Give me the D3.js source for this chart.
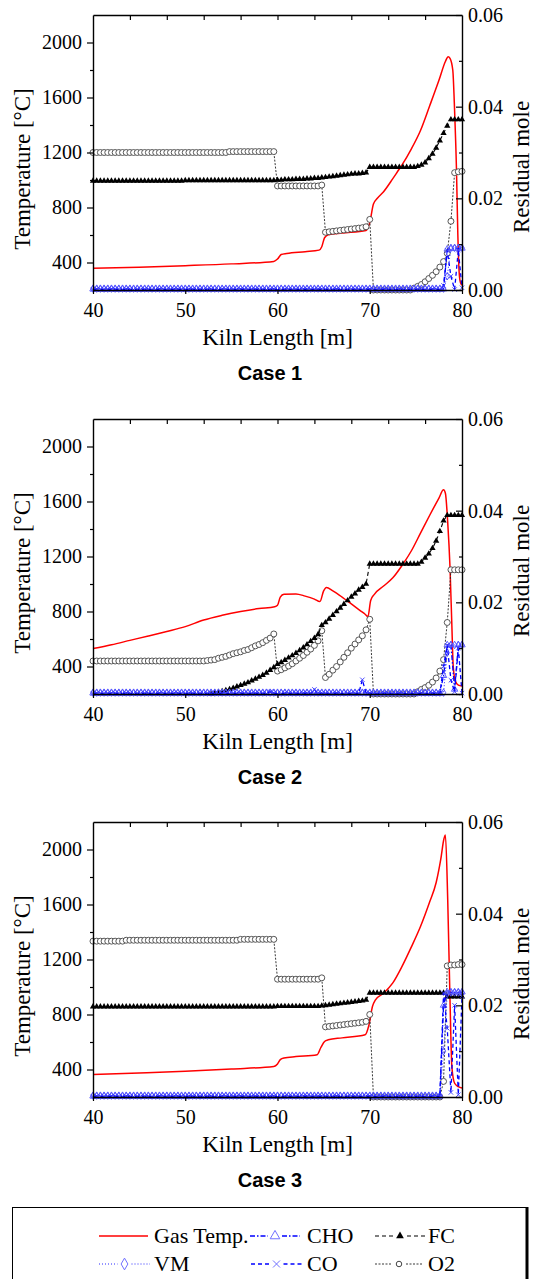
<!DOCTYPE html>
<html>
<head>
<meta charset="utf-8">
<script src="https://cdn.jsdelivr.net/npm/d3@7"></script>
<style>
  body { margin: 0; background: #fff; }
  svg { display: block; }
  text { font-family: "Liberation Serif", "Times New Roman", serif; fill: #000; }
</style>
</head>
<body>
<div id="chart-container"></div>
<script>
// sample positions along the kiln (m), one marker per sample
const kilnLength = d3.range(101).map(i => +(40 + 0.4 * i).toFixed(1));

// shorthand for long flat runs: a number is one sample, [v, n] is v for n samples
function unpack(list) {
    let out = [];
    list.forEach(item => {
        if (Array.isArray(item)) {
            for (let i = 0; i < item[1]; i++) out.push(item[0]);
        } else {
            out.push(item);
        }
    });
    return out;
}

// ---- Case 1 ----
const gasCase1 = [[40,358],[45,366],[50,377],[55,390],[59.6,408],[60.0,425],[60.4,458],[61,466],[63,479],[64.5,490],
    [64.8,515],[65.1,580],[65.5,602],[67,614],[69.6,632],[70.0,690],[70.4,825],[70.8,865],[71.5,915],[72.5,1010],
    [73.0,1060],[73.5,1110],[74.5,1225],[75.5,1360],[76.5,1540],[77.5,1725],[78.2,1862],[78.5,1897],[78.7,1885],
    [79.0,1800],[79.2,1500],[79.4,1080],[79.55,600],[79.7,320],[79.85,250],[80,235]];
const fcCase1 = unpack([[0.0238, 25], [0.0239, 25],
    0.0240, 0.0240, 0.0241, 0.0241, 0.0241, 0.0242, 0.0242, 0.0242, 0.0243, 0.0243, 0.0244, 0.0244,
    0.0245, 0.0246, 0.0247, 0.0248, 0.0249, 0.0250, 0.0251, 0.0252, 0.0253, 0.0254, 0.0254, 0.0255, 0.0256,
    [0.0268, 13],
    0.0270, 0.0273, 0.0278, 0.0287, 0.0297, 0.0310, 0.0326, 0.0342, 0.0358, [0.0372, 4]]);
const o2Case1 = unpack([[0.0300, 37], [0.0302, 13], [0.0227, 12], 0.0229,
    0.0126, 0.0127, 0.0128, 0.0129, 0.0130, 0.0131, 0.0132, 0.0133, 0.0134, 0.0135, 0.0136, 0.0138,
    0.0154, [0, 11],
    0.0004, 0.0008, 0.0012, 0.0018, 0.0025, 0.0032, 0.0040, 0.0050, 0.0062, 0.0080, 0.0150, 0.0256, 0.0258, 0.0259]);
const vmCase1 = unpack([[0.0003, 96], 0.0030, 0.0092, 0.0092, 0.0092, 0.0092]);
const choCase1 = unpack([[0.0002, 96], 0.0089, 0.0090, 0.0091, 0.0091, 0.0091]);
const coCase1 = unpack([[0.0001, 95], 0.0010, 0.0086, 0.0030, 0.0001, 0.0087, 0.0005]);

// ---- Case 2 ----
const gasCase2 = [[40,530],[42,558],[44,590],[46,622],[48,655],[50,690],[52,738],[54,772],[56,800],[58,822],
    [59.7,835],[60.0,845],[60.3,905],[60.7,925],[62,928],[63,912],[64,890],[64.6,872],[65.0,950],[65.3,975],
    [66,950],[67,905],[68,855],[69,805],[69.5,780],[69.8,762],[70.1,880],[70.5,925],[71.5,985],[72.5,1045],
    [73.5,1135],[74.5,1240],[75.5,1370],[76.5,1500],[77.5,1625],[78.0,1685],[78.2,1660],[78.45,1450],
    [78.7,1120],[78.9,700],[79.05,400],[79.3,290],[79.6,265],[80,258]];
// no FC marks show before ~53 m
const fcCase2 = unpack([[null, 32], 0,
    0.0002, 0.0004, 0.0006, 0.0008, 0.0010, 0.0013, 0.0016, 0.0019, 0.0022, 0.0025, 0.0029, 0.0033, 0.0037,
    0.0041, 0.0046, 0.0052, 0.0058,
    0.0065, 0.0069, 0.0074, 0.0079, 0.0084, 0.0089, 0.0095, 0.0101, 0.0108, 0.0115, 0.0122, 0.0130,
    0.0150, 0.0156, 0.0164, 0.0172, 0.0180, 0.0188, 0.0196, 0.0204, 0.0212, 0.0219, 0.0227, 0.0233, 0.0240,
    [0.0284, 14],
    0.0288, 0.0297, 0.0306, 0.0318, 0.0334, 0.0355, 0.0378, 0.0390, [0.0390, 4]]);
const o2Case2 = unpack([[0.0072, 31],
    0.0073, 0.0074, 0.0075, 0.0078, 0.0080, 0.0082, 0.0085, 0.0088, 0.0090, 0.0092, 0.0095, 0.0097, 0.0101,
    0.0105, 0.0108, 0.0112, 0.0117, 0.0122, 0.0131,
    0.0050, 0.0053, 0.0057, 0.0061, 0.0066, 0.0072, 0.0078, 0.0084, 0.0091, 0.0098, 0.0106, 0.0116,
    0.0138,
    0.0036, 0.0043, 0.0052, 0.0060, 0.0070, 0.0080, 0.0090, 0.0100, 0.0109, 0.0118, 0.0127, 0.0140,
    0.0163, [0, 12],
    0.0005, 0.0010, 0.0014, 0.0019, 0.0026, 0.0035, 0.0050, 0.0075, 0.0156, 0.0271, 0.0271, 0.0271, 0.0271]);
const vmCase2 = unpack([[0.0003, 96], 0.0090, 0.0107, 0.0107, 0.0107, 0.0107]);
const choCase2 = unpack([[0.0002, 95], 0.0040, 0.0107, 0.0107, 0.0010, 0.0107, 0.0107]);
const coCase2 = unpack([[0.0001, 48], 0.0005, [0.0001, 11], 0.0010, [0.0001, 12], 0.0031, [0.0001, 21],
    0.0060, 0.0106, 0.0030, 0.0005, 0.0100, 0.0002]);

// ---- Case 3 ----
const gasCase3 = [[40,363],[45,375],[50,388],[55,404],[59.6,422],[60.0,440],[60.3,472],[60.7,484],[62,494],
    [64.3,508],[64.7,560],[65.1,604],[65.5,616],[67,630],[69.5,652],[69.9,720],[70.3,860],[70.6,905],[71.5,955],
    [72.5,1030],[73.5,1150],[74.5,1290],[75.5,1440],[76.5,1620],[77.2,1760],[77.7,1930],[78.05,2080],[78.2,2105],
    [78.45,1640],[78.7,905],[78.9,420],[79.2,300],[79.6,275],[80,265]];
const fcCase3 = unpack([[0.0197, 50], [0.0198, 12],
    0.0199, 0.0200, 0.0201, 0.0202, 0.0203, 0.0204, 0.0205, 0.0206, 0.0207, 0.0208, 0.0209, 0.0210, 0.0212,
    [0.0227, 21], [0.0219, 5]]);
const o2Case3 = unpack([[0.0340, 9], [0.0342, 31], [0.0344, 10], [0.0257, 12], 0.0260,
    0.0153, 0.0154, 0.0155, 0.0156, 0.0157, 0.0158, 0.0159, 0.0160, 0.0161, 0.0162, 0.0163, 0.0165,
    0.0180, [0, 19], 0.0034, 0.0286, 0.0288, 0.0288, 0.0289, 0.0289]);
const vmCase3 = unpack([[0.0003, 95], 0.0100, 0.0225, 0.0228, 0.0228, 0.0228, 0.0228]);
const choCase3 = unpack([[0.0002, 95], 0.0200, 0.0229, 0.0229, 0.0229, 0.0229, 0.0229]);
const coCase3 = unpack([[0.0001, 95], 0.0227, 0.0150, 0.0010, 0.0200, 0.0005, 0.0220]);

// ---- axes ----
const caseTitles = ["Case 1", "Case 2", "Case 3"];
const lengthTicks = [40, 50, 60, 70, 80];
const topTicks = [44, 48, 52, 56, 60, 64, 68, 72, 76];
const tempTicks = [400, 800, 1200, 1600, 2000];
const tempMinorTicks = [600, 1000, 1400, 1800];
const moleTicks = [0, 0.02, 0.04, 0.06];
const moleMinorTicks = [0.01, 0.03, 0.05];

const cases = [
    {gas: gasCase1, fc: fcCase1, o2: o2Case1, vm: vmCase1, cho: choCase1, co: coCase1},
    {gas: gasCase2, fc: fcCase2, o2: o2Case2, vm: vmCase2, cho: choCase2, co: coCase2},
    {gas: gasCase3, fc: fcCase3, o2: o2Case3, vm: vmCase3, cho: choCase3, co: coCase3}
];

const plotLeft = 93, plotRight = 462, plotHeight = 275;
const panelTops = [15, 419, 822];
const serif = '"Liberation Serif", "Times New Roman", serif';

const crossPath = function(r) {
    return "M" + (-r) + "," + (-r) + "L" + r + "," + r + "M" + (-r) + "," + r + "L" + r + "," + (-r);
};

const styles = {
    o2:  {line: "#222", width: 0.9, dash: "2,1.5", marker: d3.symbol(d3.symbolCircle).size(28)(),
          mStroke: "#444", mFill: "#fff", mWidth: 0.9},
    fc:  {line: "#000", width: 1.1, dash: "4,3", marker: d3.symbol(d3.symbolTriangle).size(17)(),
          mStroke: "none", mFill: "#000", mWidth: 0},
    vm:  {line: "#2a2aff", width: 1, dash: "1,2", marker: d3.symbol(d3.symbolDiamond).size(16)(),
          mStroke: "#4848ff", mFill: "none", mWidth: 0.9},
    cho: {line: "#0000ff", width: 1.3, dash: "5,2,1.5,2", marker: d3.symbol(d3.symbolTriangle).size(18)(),
          mStroke: "#5555ff", mFill: "none", mWidth: 0.9},
    co:  {line: "#0000ff", width: 1.3, dash: "4,3", marker: crossPath(2.2),
          mStroke: "#3535ff", mFill: "none", mWidth: 0.9}
};

let svg = d3.select("#chart-container")
    .append("svg")
    .attr("width", 533)
    .attr("height", 1279);
svg.append("rect").attr("width", 533).attr("height", 1279).attr("fill", "#fff");

let x = d3.scaleLinear().domain([40, 80]).range([plotLeft, plotRight]);

function drawSeries(g, values, yScale, st) {
    let pts = kilnLength.map((d, i) => [x(d), values[i] === null ? null : yScale(values[i])]);
    g.append("path")
        .attr("d", d3.line().defined(p => p[1] !== null)(pts))
        .attr("fill", "none")
        .attr("stroke", st.line)
        .attr("stroke-width", st.width)
        .attr("stroke-dasharray", st.dash);
    g.append("g").selectAll("path")
        .data(pts.filter(p => p[1] !== null))
        .enter()
        .append("path")
        .attr("transform", p => "translate(" + p[0] + "," + p[1] + ")")
        .attr("d", st.marker)
        .attr("fill", st.mFill)
        .attr("stroke", st.mStroke)
        .attr("stroke-width", st.mWidth);
}

function styleAxis(g, size) {
    g.attr("font-family", serif).attr("font-size", size);
    g.selectAll("line").attr("stroke", "#000").attr("stroke-width", 1.2);
    g.select(".domain").attr("stroke", "#000").attr("stroke-width", 1.4);
}

cases.forEach((c, k) => {
    let top = panelTops[k], bottom = top + plotHeight;
    let yT = d3.scaleLinear().domain([200, 2200]).range([bottom, top]);
    let yR = d3.scaleLinear().domain([0, 0.06]).range([bottom, top]);
    let g = svg.append("g");

    // gas temperature on the left axis
    g.append("path")
        .attr("d", d3.line().x(d => x(d[0])).y(d => yT(d[1])).curve(d3.curveMonotoneX)(c.gas))
        .attr("fill", "none")
        .attr("stroke", "#ff0000")
        .attr("stroke-width", 1.5);

    // residual moles on the right axis
    drawSeries(g, c.o2, yR, styles.o2);
    drawSeries(g, c.fc, yR, styles.fc);
    drawSeries(g, c.vm, yR, styles.vm);
    drawSeries(g, c.cho, yR, styles.cho);
    drawSeries(g, c.co, yR, styles.co);

    // axes
    g.append("g")
        .attr("transform", "translate(0," + bottom + ")")
        .call(d3.axisBottom(x).tickValues(lengthTicks).tickSize(4).tickSizeOuter(0).tickPadding(9))
        .call(a => styleAxis(a, 20));
    g.append("g")
        .attr("transform", "translate(0," + top + ")")
        .call(d3.axisTop(x).tickValues(topTicks).tickSize(-5).tickSizeOuter(0).tickFormat(""))
        .call(a => styleAxis(a, 20));
    g.append("g")
        .attr("transform", "translate(" + plotLeft + ",0)")
        .call(d3.axisLeft(yT).tickValues(tempTicks).tickSize(6).tickSizeOuter(0).tickPadding(5)
            .tickFormat(d3.format("d")))
        .call(a => styleAxis(a, 20));
    g.append("g")
        .attr("transform", "translate(" + plotLeft + ",0)")
        .call(d3.axisLeft(yT).tickValues(tempMinorTicks).tickSize(3).tickFormat(""))
        .call(a => { styleAxis(a, 20); a.select(".domain").remove(); });
    g.append("g")
        .attr("transform", "translate(" + plotRight + ",0)")
        .call(d3.axisRight(yR).tickValues(moleTicks).tickSize(-6).tickSizeOuter(0).tickPadding(6)
            .tickFormat(d3.format(".2f")))
        .call(a => styleAxis(a, 20));
    g.append("g")
        .attr("transform", "translate(" + plotRight + ",0)")
        .call(d3.axisRight(yR).tickValues(moleMinorTicks).tickSize(-3).tickFormat(""))
        .call(a => { styleAxis(a, 20); a.select(".domain").remove(); });

    // titles
    g.append("text")
        .attr("transform", "translate(30," + (top + 154) + ") rotate(-90)")
        .style("text-anchor", "middle")
        .style("font-size", "23px")
        .text("Temperature [°C]");
    g.append("text")
        .attr("transform", "translate(529," + (top + 152) + ") rotate(-90)")
        .style("text-anchor", "middle")
        .style("font-size", "23px")
        .text("Residual mole");
    g.append("text")
        .attr("x", (plotLeft + plotRight) / 2)
        .attr("y", bottom + 55)
        .style("text-anchor", "middle")
        .style("font-size", "23px")
        .text("Kiln Length [m]");
    g.append("text")
        .attr("x", 270)
        .attr("y", bottom + 90)
        .style("text-anchor", "middle")
        .style("font-family", '"Liberation Sans", Arial, sans-serif')
        .style("font-weight", "bold")
        .style("font-size", "20px")
        .text(caseTitles[k]);
});

// legend
let legend = svg.append("g");
legend.append("rect")
    .attr("x", 12.5).attr("y", 1207.5)
    .attr("width", 514).attr("height", 100)
    .attr("fill", "none").attr("stroke", "#000").attr("stroke-width", 1);
legend.append("line")
    .attr("x1", 527).attr("x2", 527).attr("y1", 1207).attr("y2", 1279)
    .attr("stroke", "#000").attr("stroke-width", 3);

const legendItems = [
    {label: "Gas Temp.", key: "gas", x0: 99, x1: 148, tx: 154, row: 0},
    {label: "CHO", key: "cho", x0: 250, x1: 300, tx: 307, row: 0},
    {label: "FC", key: "fc", x0: 375, x1: 425, tx: 428, row: 0},
    {label: "VM", key: "vm", x0: 99, x1: 150, tx: 154, row: 1},
    {label: "CO", key: "co", x0: 251, x1: 302, tx: 307, row: 1},
    {label: "O2", key: "o2", x0: 375, x1: 423, tx: 428, row: 1}
];
const legendBase = [1243, 1271];
const legendMarkers = {
    o2: d3.symbol(d3.symbolCircle).size(24)(),
    fc: d3.symbol(d3.symbolTriangle).size(26)(),
    vm: d3.symbol(d3.symbolDiamond).size(40)(),
    cho: d3.symbol(d3.symbolTriangle).size(40)(),
    co: crossPath(3.5)
};

legendItems.forEach(it => {
    let yb = legendBase[it.row];
    let ym = yb - 7;
    if (it.key === "gas") {
        legend.append("line")
            .attr("x1", it.x0).attr("x2", it.x1).attr("y1", ym).attr("y2", ym)
            .attr("stroke", "#ff0000").attr("stroke-width", 1.5);
    } else {
        let st = styles[it.key];
        let mid = (it.x0 + it.x1) / 2;
        legend.append("line")
            .attr("x1", it.x0).attr("x2", mid - 7).attr("y1", ym).attr("y2", ym)
            .attr("stroke", st.line).attr("stroke-width", st.width).attr("stroke-dasharray", st.dash);
        legend.append("line")
            .attr("x1", mid + 7).attr("x2", it.x1).attr("y1", ym).attr("y2", ym)
            .attr("stroke", st.line).attr("stroke-width", st.width).attr("stroke-dasharray", st.dash);
        legend.append("path")
            .attr("transform", "translate(" + mid + "," + ym + ")")
            .attr("d", legendMarkers[it.key])
            .attr("fill", st.mFill)
            .attr("stroke", it.key === "o2" ? "#444" : (it.key === "fc" ? "none" : "#7070ff"))
            .attr("stroke-width", 1);
    }
    legend.append("text")
        .attr("x", it.tx).attr("y", yb)
        .style("font-size", "22px")
        .text(it.label);
});
</script>
</body>
</html>
